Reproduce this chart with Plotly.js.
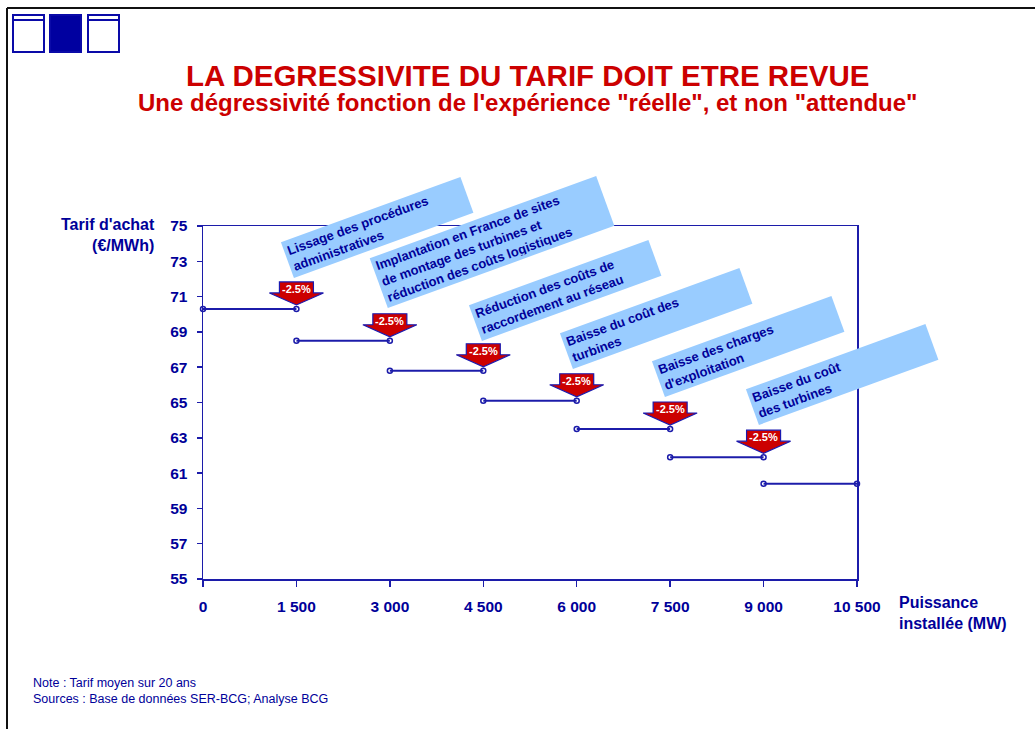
<!DOCTYPE html>
<html><head><meta charset="utf-8">
<script src="https://cdn.plot.ly/plotly-3.0.1.min.js"></script>
<style>body{margin:0;padding:0;background:#fff}#chart{width:1035px;height:729px}</style>
</head><body><div id="chart"></div>
<script>
// ---- data ----
const capacityMW = [0, 1500, 3000, 4500, 6000, 7500, 9000, 10500];
const tariff = [70.3, 68.5, 66.8, 65.1, 63.5, 61.9, 60.4];
const stepLabels = ["-2.5%", "-2.5%", "-2.5%", "-2.5%", "-2.5%", "-2.5%"];
const xTickVals = [0, 1500, 3000, 4500, 6000, 7500, 9000, 10500];
const xTickText = ["0", "1 500", "3 000", "4 500", "6 000", "7 500", "9 000", "10 500"];
const drivers = [
  "Lissage des procédures<br>administratives",
  "Implantation en France de sites<br>de montage des turbines et<br>réduction des coûts logistiques",
  "Réduction des coûts de<br>raccordement au réseau",
  "Baisse du coût des<br>turbines",
  "Baisse des charges<br>d'exploitation",
  "Baisse du coût<br>des turbines"
];

// ---- layout helpers ----
const W = 1035, H = 729, ML = 203, MR = 178, MT = 226, MB = 150;
const PW = W - ML - MR, PH = H - MT - MB;
const px = x => (x - ML) / PW;
const py = y => (H - MB - y) / PH;
const NAVY = '#000099', LINE = '#1c1caa', RED = '#cc0000', BOX = '#99ccff';
const FONT = 'Liberation Sans, Arial, sans-serif';

// step segments with null breaks
const sx = [], sy = [];
tariff.forEach((v, i) => { sx.push(capacityMW[i], capacityMW[i + 1], null); sy.push(v, v, null); });

const traces = [{
  x: sx, y: sy, type: 'scatter', mode: 'lines+markers', connectgaps: false,
  line: {color: LINE, width: 2},
  marker: {symbol: 'circle-open', size: 5, color: LINE, line: {width: 1.5, color: LINE}},
  hoverinfo: 'skip', showlegend: false, cliponaxis: false
}];

const shapes = [];
const annotations = [];

// block arrows above each step end
stepLabels.forEach((lab, i) => {
  shapes.push({
    type: 'path', xref: 'x', yref: 'y', xsizemode: 'pixel', ysizemode: 'pixel',
    xanchor: capacityMW[i + 1], yanchor: tariff[i],
    path: 'M-17,27 L17,27 L17,16 L27,16 L0,4 L-27,16 L-17,16 Z',
    fillcolor: RED, line: {color: '#1a1ab0', width: 1.2}, layer: 'above'
  });
  annotations.push({
    x: capacityMW[i + 1], y: tariff[i], xref: 'x', yref: 'y', yshift: 20, yanchor: 'middle', xanchor: 'center',
    text: '<b>' + lab + '</b>', showarrow: false,
    font: {family: FONT, size: 11, color: '#ffffff'}
  });
});

// rotated driver boxes
const boxPos = [[377, 227, 184, 31], [492, 242, 234, 46], [565, 290, 184, 31], [656, 318, 184, 31], [748, 346, 184, 31], [842, 374, 184, 31]];
drivers.forEach((t, i) => {
  const b = boxPos[i];
  annotations.push({
    x: px(b[0]), y: py(b[1]), xref: 'paper', yref: 'paper', xanchor: 'center', yanchor: 'middle',
    text: '<b>' + t + '</b>', showarrow: false, textangle: -20,
    bgcolor: BOX, width: b[2], height: b[3], borderpad: 3, align: 'left', valign: 'middle',
    font: {family: FONT, size: 13, color: NAVY}
  });
});

// titles
annotations.push({x: px(527), y: py(75), xref: 'paper', yref: 'paper', xanchor: 'center', yanchor: 'middle', showarrow: false,
  text: '<b>LA DEGRESSIVITE DU TARIF DOIT ETRE REVUE</b>', font: {family: FONT, size: 29.5, color: RED}});
annotations.push({x: px(527), y: py(103), xref: 'paper', yref: 'paper', xanchor: 'center', yanchor: 'middle', showarrow: false,
  text: '<b>Une dégressivité fonction de l\'expérience "réelle", et non "attendue"</b>', font: {family: FONT, size: 24, color: RED}});
// axis titles
annotations.push({x: px(157), y: py(235), xref: 'paper', yref: 'paper', xanchor: 'right', yanchor: 'middle', showarrow: false, align: 'right',
  text: '<b>Tarif d\'achat<br>(€/MWh)</b>', font: {family: FONT, size: 16, color: NAVY}});
annotations.push({x: px(897), y: py(613), xref: 'paper', yref: 'paper', xanchor: 'left', yanchor: 'middle', showarrow: false, align: 'left',
  text: '<b>Puissance<br>installée (MW)</b>', font: {family: FONT, size: 16, color: NAVY}});
// notes
annotations.push({x: px(31), y: py(691), xref: 'paper', yref: 'paper', xanchor: 'left', yanchor: 'middle', showarrow: false, align: 'left',
  text: 'Note : Tarif moyen sur 20 ans<br>Sources : Base de données SER-BCG; Analyse BCG', font: {family: FONT, size: 12.5, color: NAVY}});

// frame and logo icons
shapes.push({type: 'line', xref: 'paper', yref: 'paper', x0: px(7), x1: px(1035), y0: py(8), y1: py(8), line: {color: '#111', width: 2}});
shapes.push({type: 'line', xref: 'paper', yref: 'paper', x0: px(7), x1: px(7), y0: py(8), y1: py(729), line: {color: '#111', width: 2}});
[[13, false], [50, true], [88, false]].forEach(([x0, filled]) => {
  shapes.push({type: 'rect', xref: 'paper', yref: 'paper', x0: px(x0), x1: px(x0 + 31), y0: py(15), y1: py(52),
    line: {color: '#0a0aa8', width: 2}, fillcolor: filled ? '#0000a0' : 'rgba(0,0,0,0)'});
  if (!filled) shapes.push({type: 'line', xref: 'paper', yref: 'paper', x0: px(x0), x1: px(x0 + 31), y0: py(20), y1: py(20), line: {color: '#0a0aa8', width: 2}});
});

const axisFont = {family: FONT, size: 15.5, color: NAVY, weight: 'bold'};
const layout = {
  width: W, height: H, margin: {l: ML, r: MR, t: MT, b: MB, pad: 0},
  paper_bgcolor: '#ffffff', plot_bgcolor: '#ffffff', showlegend: false,
  xaxis: {range: [0, 10500], tickvals: xTickVals, ticktext: xTickText, ticks: 'outside', ticklen: 6, tickcolor: LINE, tickwidth: 1.5,
    showline: true, linecolor: LINE, linewidth: 1.5, mirror: true, showgrid: false, zeroline: false,
    tickfont: axisFont, ticklabelstandoff: 7, fixedrange: true},
  yaxis: {range: [55, 75], dtick: 2, tick0: 55, ticks: 'outside', ticklen: 5, tickcolor: LINE, tickwidth: 1.5,
    showline: true, linecolor: LINE, linewidth: 1.5, mirror: true, showgrid: false, zeroline: false,
    tickfont: axisFont, ticklabelstandoff: 6, fixedrange: true},
  shapes: shapes, annotations: annotations
};
Plotly.newPlot('chart', traces, layout, {displayModeBar: false, staticPlot: true});
</script></body></html>
